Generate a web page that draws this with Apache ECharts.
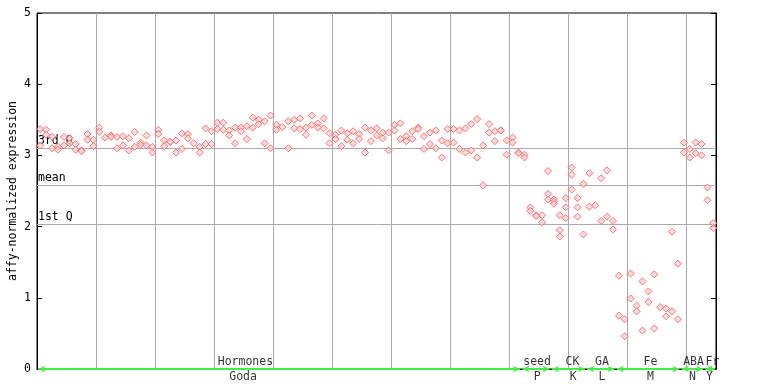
<!DOCTYPE html>
<html><head><meta charset="utf-8">
<script src="https://cdn.jsdelivr.net/npm/echarts@6/dist/echarts.min.js"></script>
<style>html,body{margin:0;padding:0;background:#fff}#c{width:768px;height:384px}</style>
</head><body><div id="c"></div>
<script>
// replicate values per sample column, grouped by experiment
const hormones = [
 [3.37,3.14],[3.36,3.29],[3.26,3.10],[3.12,3.08],[3.26,3.14],[3.24,3.17],[3.16,3.08],[3.07,3.06],
 [3.30,3.22],[3.22,3.13],[3.39,3.33],[3.25],[3.28,3.26],[3.26,3.10],[3.27,3.14],[3.24,3.07],
 [3.33,3.12],[3.18,3.15],[3.28,3.14],[3.12,3.04],[3.36,3.30],[3.21,3.13],[3.19,3.19],[3.21,3.04],
 [3.31,3.09],[3.30,3.24],[3.17],[3.12,3.04],[3.38,3.16],[3.34,3.16],[3.46,3.37],[3.46,3.36],
 [3.35,3.28],[3.39,3.17],[3.39,3.34],[3.41,3.23],[3.53,3.39],[3.50,3.44],[3.48,3.17],[3.56,3.10],
 [3.43,3.36],[3.40],[3.48,3.10],[3.50,3.38],[3.52,3.37],[3.39,3.29],[3.56,3.43],[3.45,3.39],
 [3.52,3.38],[3.31,3.17],[3.29,3.23],[3.35,3.13],[3.31,3.22],[3.34,3.17],[3.30,3.23],[3.39,3.04],
 [3.35,3.20],[3.38,3.28],[3.32,3.24],[3.32,3.07],[3.43,3.35],[3.45,3.23],[3.27,3.20],[3.34,3.23],
 [3.39,3.37],[3.27,3.09],[3.32,3.16],[3.35,3.10],[3.21,2.97],[3.37,3.17],[3.37,3.18],[3.35,3.09],
 [3.38,3.04],[3.44,3.07],[3.51,2.97],[3.14,2.58],[3.44,3.32],[3.34,3.20],[3.35,3.35],[3.21,3.01],
 [3.25,3.18],[3.04,3.03]
];
const seed = [[3.01,2.97],[2.27,2.22],[2.16,2.15],[2.16,2.06],[2.78,2.46,2.38]];
const ck = [[2.38,2.35,2.32],[2.16,1.95,1.86],[2.40,2.27,2.12],[2.83,2.73,2.52],[2.40,2.27,2.14],[2.60,1.89]];
const ga = [[2.75,2.28],[2.30],[2.68,2.08],[2.79,2.14],[2.08,1.96]];
const fe = [[1.31,0.75],[0.70,0.46],[1.34,0.99],[0.89,0.81],[1.23,0.54],[1.09,0.94],[1.33,0.57],[0.87],[0.85,0.74],[1.93,0.81],[1.48,0.70]];
const aba = [[3.18,3.04],[3.09,2.97],[3.18,3.03],[3.16,3.00]];
const fr = [[2.55,2.37],[2.05,1.98]];

const groupTop = ['Hormones','seed','CK','GA','Fe','ABA','Fr'];
const groupBottom = ['Goda','P','K','L','M','N','Y'];
const topLabelPos = [35.3,84.7,90.7,95.7,103.9,111.2,114.4];
const bottomLabelPos = [34.9,84.7,90.8,95.7,103.9,111.0,113.9];
const segmentBounds = [0,82,87,93,98,109,113,115];

const quartileNames = ['3rd Q','mean','1st Q'];
const quartileValues = [3.10,2.58,2.03];
const yTicks = [0,1,2,3,4,5];

const columns = [].concat(hormones, seed, ck, ga, fe, aba, fr);
const points = [];
columns.forEach((vals, i) => vals.forEach(v => points.push([i + 0.55, v])));

const mono = 'DejaVu Sans Mono';
const green = '#44ee44';

const segData = [];
for (let i = 0; i < segmentBounds.length - 1; i++) {
  segData.push([{coord:[segmentBounds[i] + 0.2, 0]}, {coord:[segmentBounds[i+1] - 0.2, 0]}]);
}

const chart = echarts.init(document.getElementById('c'), null, {renderer:'canvas'});
chart.setOption({
  animation: false,
  backgroundColor: '#fff',
  grid: {left: 37, right: 52, top: 13, bottom: 15, show: true, borderColor: '#000', borderWidth: 1,
    containLabel: false, outerBoundsMode: 'none'},
  xAxis: [{
    type: 'value', min: 0, max: 115, interval: 10,
    axisLine: {show: true, lineStyle: {color: '#000'}},
    axisTick: {show: false}, axisLabel: {show: false},
    splitLine: {show: true, lineStyle: {color: '#aaaaaa', width: 1}}
  }],
  yAxis: [{
    type: 'value', min: yTicks[0], max: yTicks[yTicks.length-1], interval: 1,
    name: 'affy-normalized expression', nameLocation: 'middle', nameRotate: 90, nameGap: 18,
    nameMoveOverlap: false,
    nameTextStyle: {fontFamily: mono, fontSize: 11.5, color: '#000'},
    axisLine: {show: true, lineStyle: {color: '#000'}},
    axisTick: {show: true, inside: true, length: 5, lineStyle: {color: '#000'}},
    axisLabel: {fontFamily: mono, fontSize: 11.5, color: '#000', margin: 6},
    splitLine: {show: false}
  }, {
    type: 'value', min: 0, max: 5, interval: 1, position: 'right',
    axisLine: {show: true, lineStyle: {color: '#000'}},
    axisTick: {show: true, inside: true, length: 5, lineStyle: {color: '#000'}},
    axisLabel: {show: false}, splitLine: {show: false}
  }],
  series: [{
    type: 'scatter', name: 'quartiles', data: [], silent: true,
    markLine: {
      silent: true, symbol: 'none', animation: false,
      lineStyle: {color: '#aaaaaa', width: 1, type: 'solid'},
      label: {show: true, position: 'insideStartTop', distance: [1, 1], fontFamily: mono, fontSize: 11.5, color: '#000',
        formatter: p => p.name},
      data: quartileValues.map((v, i) => ({yAxis: v, name: quartileNames[i]}))
    }
  }, {
    type: 'scatter', name: 'expression', data: points,
    symbol: 'diamond', symbolSize: 7,
    itemStyle: {color: '#ffd6d6', borderColor: '#ff5555', borderWidth: 1},
    z: 5
  }, {
    type: 'scatter', name: 'groups', silent: true, symbolSize: 0,
    data: topLabelPos.map((x, i) => ({value: [x, 0], name: groupTop[i]})),
    label: {show: true, position: 'inside', offset: [0, -7], formatter: p => p.name,
      fontFamily: mono, fontSize: 11.5, color: '#000'},
    markLine: {
      silent: true, symbol: ['arrow','arrow'], symbolSize: [5, 7], animation: false,
      lineStyle: {color: green, width: 2, type: 'solid'},
      label: {show: false},
      data: segData
    },
    z: 6
  }, {
    type: 'scatter', name: 'groupsSub', silent: true, symbolSize: 0,
    data: bottomLabelPos.map((x, i) => ({value: [x, 0], name: groupBottom[i]})),
    label: {show: true, position: 'inside', offset: [0, 8], formatter: p => p.name,
      fontFamily: mono, fontSize: 11.5, color: '#000'},
    clip: false, z: 6
  }]
});
</script></body></html>
